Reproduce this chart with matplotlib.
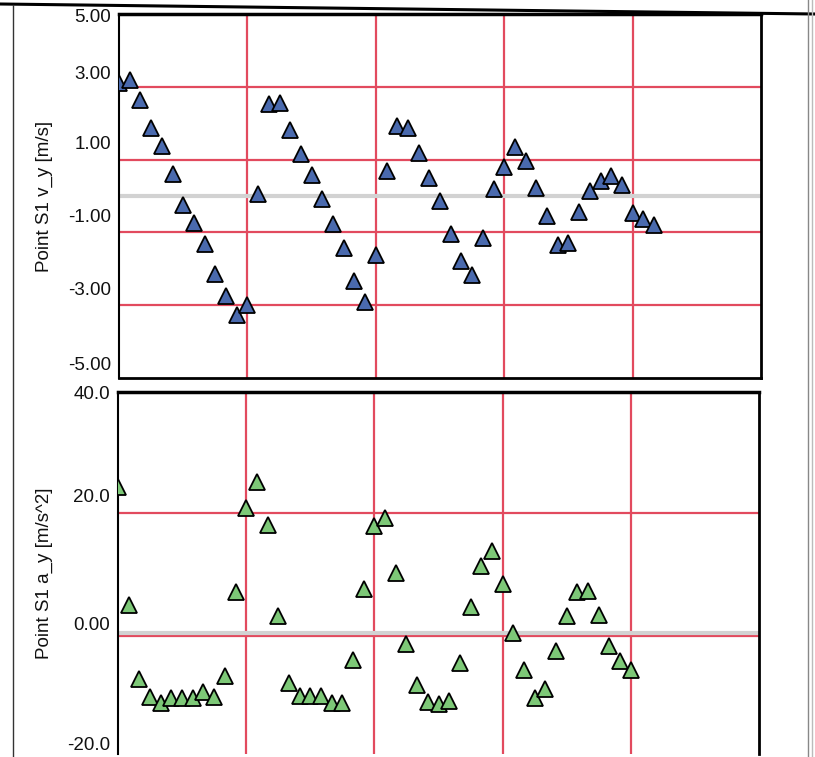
import matplotlib
matplotlib.use("Agg")
import matplotlib.pyplot as plt
from matplotlib.lines import Line2D
from matplotlib import font_manager as fm
from matplotlib.transforms import ScaledTranslation
import numpy as np

# ---------------- data ----------------
frame_rate = 30.0  # frames per second (time step between points)

v_y = [3.10, 3.20, 2.65, 1.88, 1.37, 0.61, -0.25, -0.73, -1.32, -2.15,
       -2.74, -3.28, -3.00, 0.05, 2.54, 2.55, 1.82, 1.15, 0.59, -0.09,
       -0.76, -1.43, -2.34, -2.91, -1.61, 0.70, 1.92, 1.86, 1.17, 0.49,
       -0.15, -1.04, -1.79, -2.16, -1.16, 0.19, 0.79, 1.34, 0.96, 0.21,
       -0.54, -1.35, -1.29, -0.45, 0.15, 0.40, 0.56, 0.30, -0.48, -0.64,
       -0.80]

a_y = [24.2, 4.7, -7.6, -10.6, -11.6, -10.7, -10.7, -10.7, -9.8, -10.5,
       -7.1, 6.9, 20.8, 25.0, 18.0, 2.9, -8.3, -10.4, -10.4, -10.4,
       -11.5, -11.5, -4.5, 7.4, 17.8, 19.1, 10.0, -1.7, -8.5, -11.3,
       -11.7, -11.2, -4.9, 4.4, 11.1, 13.6, 8.1, 0.1, -6.0, -10.7,
       -9.3, -2.9, 2.9, 6.9, 7.0, 3.0, -2.1, -4.6, -6.1]

v_ticks = [5, 3, 1, -1, -3, -5]
v_tick_labels = ["5.00", "3.00", "1.00", "-1.00", "-3.00", "-5.00"]
a_ticks = [40, 20, 0, -20]
a_tick_labels = ["40.0", "20.0", "0.00", "-20.0"]
x_grid = [0.4, 0.8, 1.2, 1.6]
v_grid = [3, 1, -1, -3]
a_grid = [20]
v_label = "Point S1 v_y [m/s]"
a_label = "Point S1 a_y [m/s^2]"

t_v = np.arange(len(v_y)) / frame_rate
t_a = np.arange(len(a_y)) / frame_rate

# ---------------- style ----------------
RED = "#e24a5e"
GRAY = "#d2d2d2"
BLUE = "#4a6aae"
GREEN = "#7dc877"

names = {f.name for f in fm.fontManager.ttflist}
tick_family = "Liberation Sans Narrow" if "Liberation Sans Narrow" in names else "Liberation Sans"
tick_size = 16.5 if tick_family == "Liberation Sans Narrow" else 13.5

W, H = 815, 757
fig = plt.figure(figsize=(W / 100, H / 100), dpi=100)
fig.patch.set_facecolor("white")


def px_axes(l, t, r, b):
    return fig.add_axes([l / W, 1 - b / H, (r - l) / W, (b - t) / H])


ax1 = px_axes(119, 14, 761, 378)
ax2 = px_axes(118, 392, 759, 754)


def setup(ax, ylim, hgrid, ticks, labels, offsets, ylabel, zero_red):
    ax.set_xlim(0, 2.0)
    ax.set_ylim(*ylim)
    ax.set_xticks([])
    ax.set_yticks([])
    for x in x_grid:
        ax.axvline(x, color=RED, lw=1.6, zorder=1)
    for y in hgrid:
        ax.axhline(y, color=RED, lw=1.6, zorder=1)
    if zero_red:
        tr = ax.get_yaxis_transform() + ScaledTranslation(0, -3 / 100, fig.dpi_scale_trans)
        ax.plot([0, 1], [0, 0], color=RED, lw=1.6, transform=tr, zorder=1)
    ax.axhline(0, color=GRAY, lw=3, zorder=1.5)
    for tv, tl, off in zip(ticks, labels, offsets):
        ax.annotate(tl, xy=(0, tv), xycoords=("axes fraction", "data"),
                    xytext=(-8, off), textcoords="offset pixels",
                    ha="right", va="center", fontsize=tick_size,
                    family=tick_family, color="#111111", annotation_clip=False)
    ax.spines["left"].set_linewidth(1.5)
    ax.spines["right"].set_linewidth(2.0)
    ax.spines["top"].set_linewidth(2.5)
    ax.spines["bottom"].set_linewidth(2.0)
    pos = ax.get_position()
    fig.text(44 / W, pos.y0 + pos.height / 2, ylabel, rotation=90,
             ha="center", va="center", fontsize=13.5, family="Liberation Sans",
             color="#111111")


setup(ax1, (-5, 5), v_grid, v_ticks, v_tick_labels, [-4, 12, 15, 15, 15, 13],
      v_label, False)
setup(ax2, (-20, 40), a_grid, a_ticks, a_tick_labels, [-3, 15, 8, 8],
      a_label, True)
ax2.spines["bottom"].set_visible(False)

ax1.plot(t_v, v_y, linestyle="none", marker="^", ms=11.5, mfc=BLUE,
         mec="black", mew=1.3, zorder=3)
ax2.plot(t_a, a_y, linestyle="none", marker="^", ms=11.5, mfc=GREEN,
         mec="black", mew=1.3, zorder=3)

# window frame of the scanned printout
fig.add_artist(Line2D([0, 1], [1 - 4 / H, 1 - 14 / H], color="black", lw=2.2))
fig.add_artist(Line2D([13 / W, 13 / W], [0, 1 - 5 / H], color="#333333", lw=1.0))
fig.add_artist(Line2D([808 / W, 808 / W], [0, 1], color="#888888", lw=1.0))
fig.add_artist(Line2D([812 / W, 812 / W], [0, 1], color="#bbbbbb", lw=1.0))

fig.savefig("out.png", dpi=100, facecolor="white")
